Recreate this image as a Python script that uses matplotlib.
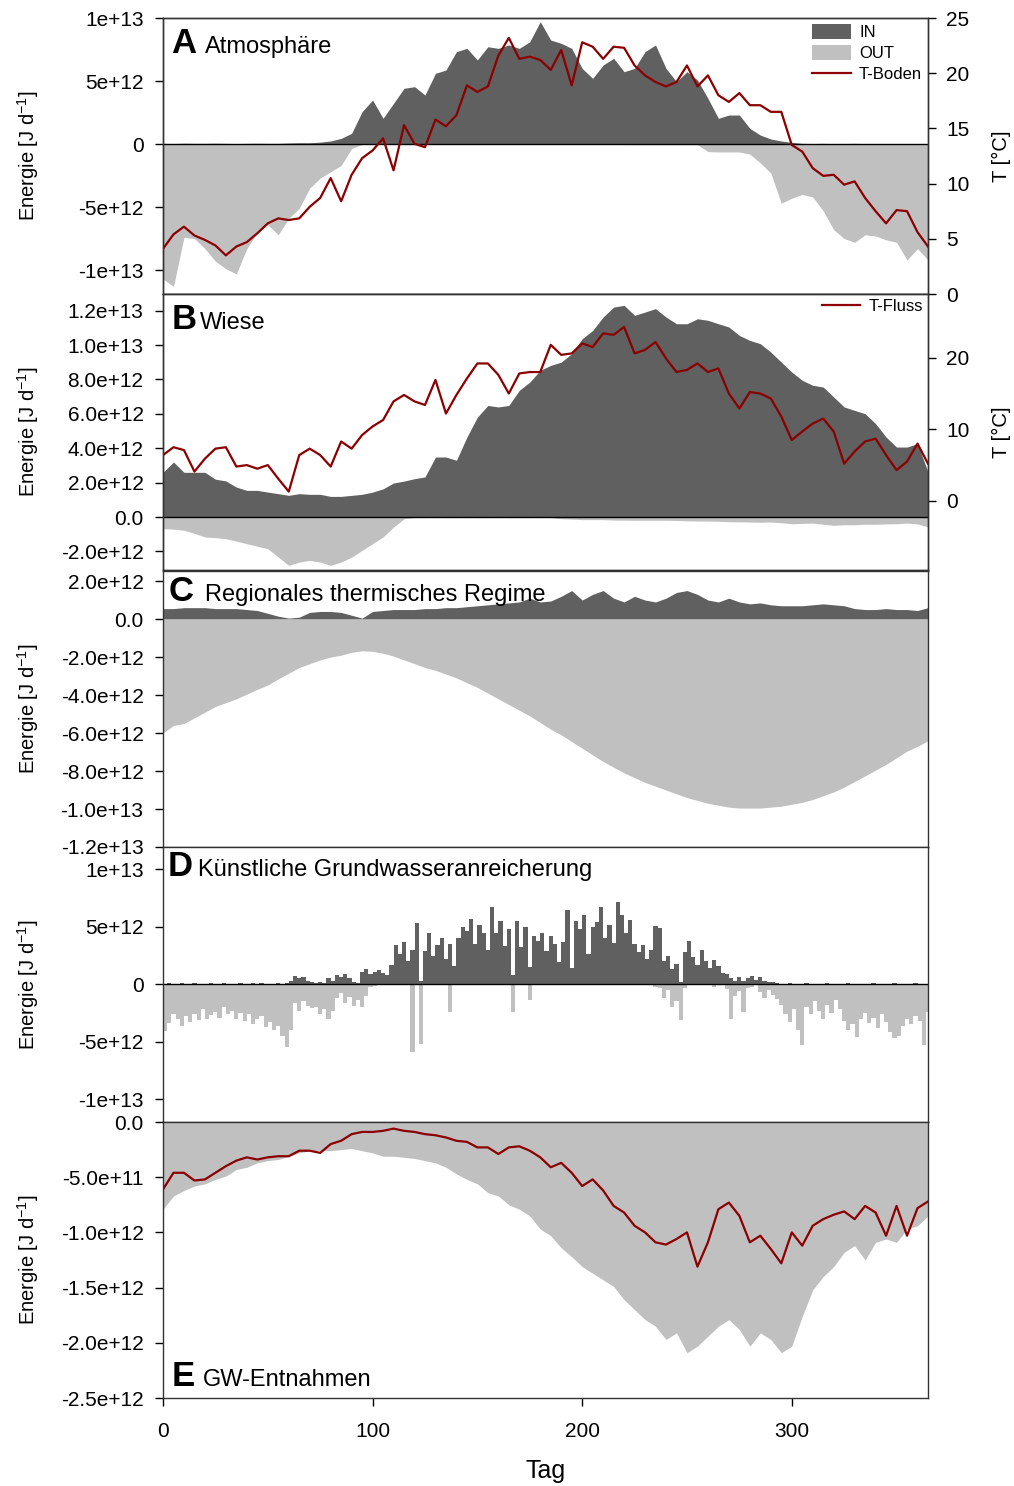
import numpy as np
import matplotlib
matplotlib.use("Agg")
import matplotlib.pyplot as plt
from matplotlib.patches import Patch
from matplotlib.lines import Line2D

plt.rcParams['font.family'] = ['Liberation Sans', 'DejaVu Sans']
plt.rcParams['mathtext.default'] = 'regular'

DARK = '#606060'
LIGHT = '#c0c0c0'
RED = '#8b0000'

# Tag (5-Tage Raster) und Tag (2-Tage Raster fuer Panel D)
days = np.arange(0, 366, 5)
days_d = np.arange(0, 365, 2)

# Energie in 1e12 J/d
# A Atmosphaere
a_in = [0.05, 0.04, 0.06, 0.05, 0.05, 0.06, 0.05, 0.04, 0.05, 0.06, 0.05, 0.05, 0.08, 0.1, 0.1,
        0.15, 0.24, 0.45, 0.85, 2.57, 3.49, 2.04, 3.23, 4.42, 4.55,
        3.89, 5.61, 5.87, 7.33, 7.59, 6.67, 7.72, 7.59, 7.86, 7.59,
        8.12, 9.71, 8.25, 7.99, 7.59, 6.0, 5.21, 6.27, 6.8, 5.74,
        6.0, 7.33, 7.86, 6.0, 4.95, 5.74, 5.08, 3.62, 2.04, 2.3,
        2.3, 1.24, 0.71, 0.4, 0.24, 0.13,
        0.05, 0.04, 0.05, 0.03, 0.04, 0.05, 0.03, 0.04, 0.03, 0.04, 0.03, 0.03, 0.03]
a_out = [-10.7, -11.3, -7.4, -7.5, -8.3, -9.3, -9.9, -10.3, -8.3, -7.0,
         -6.4, -7.2, -5.9, -5.1, -3.5, -2.7, -2.2, -1.7, -0.35,
         -0.03, -0.02, -0.03, -0.02, -0.03, -0.02, -0.03, -0.03, -0.02, -0.03, -0.02,
         -0.03, -0.02, -0.03, -0.03, -0.02, -0.03, -0.02, -0.03, -0.02, -0.03, -0.03,
         -0.02, -0.03, -0.02, -0.03, -0.05, -0.05, -0.05, -0.05, -0.05, -0.05, -0.05,
         -0.6, -0.63, -0.63, -0.63, -0.8, -1.5, -2.3, -4.7, -4.3, -4.0, -4.2,
         -5.3, -6.8, -7.5, -7.8, -7.2, -7.3, -7.6, -7.8, -9.2, -8.3, -9.2]
a_temp = [4.1, 5.4, 6.1, 5.3, 4.9, 4.4, 3.5, 4.3, 4.7, 5.5,
          6.4, 6.85, 6.7, 6.85, 7.9, 8.7, 10.5, 8.4, 10.8, 12.3,
          13.0, 14.1, 11.2, 15.3, 13.6, 13.3, 15.8, 15.2, 16.2, 18.9,
          18.3, 18.8, 21.6, 23.2, 21.3, 21.5, 21.2, 20.3, 22.1, 18.9,
          22.8, 22.4, 21.3, 22.4, 22.3, 20.7, 19.8, 19.2, 18.8, 19.2,
          20.7, 18.8, 19.8, 18.0, 17.4, 18.2, 17.1, 17.1, 16.5, 16.5,
          13.5, 12.9, 11.4, 10.7, 10.8, 9.9, 10.2, 8.7, 7.5, 6.4,
          7.6, 7.5, 5.6, 4.3]

# B Wiese
b_in = [2.6, 3.2, 2.6, 2.6, 2.6, 2.2, 2.1, 1.74, 1.55, 1.55,
        1.45, 1.36, 1.26, 1.36, 1.32, 1.32, 1.2, 1.2, 1.26, 1.32,
        1.45, 1.64, 1.98, 2.09, 2.23, 2.33, 3.49, 3.49, 3.3, 4.65,
        5.81, 6.49, 6.4, 6.49, 7.37, 7.85, 8.53, 8.82, 9.01, 9.5,
        10.37, 10.85, 11.63, 12.21, 12.31, 11.73, 11.92, 12.12, 11.63, 11.24,
        11.24, 11.53, 11.44, 11.24, 11.05, 10.56, 10.27, 10.08, 9.59, 9.01,
        8.43, 7.95, 7.66, 7.56, 6.98, 6.4, 6.2, 6.01, 5.43, 4.65,
        4.07, 4.07, 4.27, 2.62]
b_out = [-0.68, -0.7, -0.77, -0.95, -1.16, -1.2, -1.26, -1.4, -1.55, -1.7,
         -1.84, -2.33, -2.81, -2.62, -2.52, -2.62, -2.81, -2.62, -2.33, -1.94,
         -1.55, -1.16, -0.58, -0.1, -0.03, -0.03, -0.02, -0.03, -0.03, -0.02,
         -0.03, -0.03, -0.02, -0.03, -0.03, -0.03, -0.02, -0.03, -0.1, -0.12,
         -0.15, -0.15, -0.15, -0.18, -0.18, -0.19, -0.19, -0.19, -0.19, -0.2,
         -0.22, -0.23, -0.23, -0.25, -0.27, -0.28, -0.29, -0.3, -0.29, -0.33,
         -0.39, -0.37, -0.35, -0.42, -0.48, -0.45, -0.45, -0.42, -0.42, -0.4,
         -0.39, -0.35, -0.4, -0.58]
b_temp = [6.4, 7.5, 7.1, 4.1, 5.9, 7.3, 7.5, 4.8, 5.0, 4.5,
          5.0, 3.1, 1.3, 6.4, 7.3, 6.4, 4.8, 8.3, 7.3, 9.2,
          10.4, 11.3, 13.9, 14.8, 13.9, 13.4, 16.9, 12.2, 14.8, 17.1,
          19.2, 19.2, 17.6, 15.0, 17.8, 18.0, 18.0, 21.8, 20.4, 20.6,
          22.0, 21.5, 23.4, 23.2, 24.3, 20.6, 21.1, 22.2, 19.9, 18.0,
          18.3, 19.2, 18.0, 18.5, 15.0, 12.9, 15.2, 15.0, 14.3, 11.8,
          8.5, 9.7, 10.8, 11.5, 9.7, 5.2, 6.9, 8.3, 8.7, 6.4,
          4.3, 5.5, 8.0, 5.2]

# C Regionales thermisches Regime
c_in = [0.55, 0.55, 0.6, 0.6, 0.6, 0.55, 0.55, 0.55, 0.5, 0.45,
        0.3, 0.15, 0.05, 0.1, 0.35, 0.4, 0.4, 0.35, 0.2, 0.05,
        0.4, 0.45, 0.5, 0.5, 0.5, 0.55, 0.55, 0.6, 0.6, 0.65,
        0.7, 0.75, 0.8, 0.85, 0.9, 1.1, 0.9, 0.95, 1.2, 1.5,
        1.0, 1.3, 1.5, 1.1, 0.9, 1.2, 1.0, 0.9, 1.1, 1.4,
        1.5, 1.3, 1.0, 0.9, 1.1, 0.9, 0.8, 0.85, 0.75, 0.7,
        0.7, 0.7, 0.75, 0.8, 0.75, 0.7, 0.55, 0.5, 0.5, 0.55,
        0.5, 0.5, 0.45, 0.6]
c_out = [-6.0, -5.6, -5.5, -5.2, -4.9, -4.6, -4.4, -4.2, -3.95, -3.7,
         -3.47, -3.15, -2.85, -2.55, -2.35, -2.15, -2.0, -1.9, -1.75, -1.67,
         -1.7, -1.8, -1.95, -2.15, -2.35, -2.55, -2.7, -2.9, -3.1, -3.35,
         -3.6, -3.9, -4.2, -4.5, -4.8, -5.1, -5.45, -5.8, -6.1, -6.45,
         -6.8, -7.15, -7.5, -7.8, -8.1, -8.35, -8.6, -8.8, -9.0, -9.2,
         -9.4, -9.55, -9.7, -9.8, -9.9, -9.95, -9.95, -9.95, -9.9, -9.85,
         -9.75, -9.65, -9.5, -9.3, -9.1, -8.85, -8.55, -8.25, -7.95, -7.65,
         -7.3, -6.95, -6.7, -6.4]

# D Kuenstliche Grundwasseranreicherung (2-Tage Werte)
d_in = [0.05, 0.1, 0.05, 0.05, 0.08, 0.05, 0.05, 0.1, 0.05, 0.05, 0.05, 0.08, 0.05, 0.05, 0.1, 0.05,
        0.05, 0.05, 0.1, 0.05, 0.05, 0.08, 0.05, 0.1, 0.05, 0.05, 0.05, 0.1, 0.05, 0.1, 0.3,
        0.7, 0.5, 0.6, 0.3, 0.2, 0.1, 0.2, 0.1,
        0.5, 0.3, 0.8, 0.6, 0.9, 0.5, 0.2, 0.1,
        1.1, 1.3, 0.9, 1.1, 1.2, 1.0, 0.8,
        1.7, 3.4, 2.6, 3.7, 2.0, 3.0,
        5.3,
        0.3, 2.9, 4.5, 2.5,
        3.4, 4.0, 2.2, 3.5, 1.6,
        4.0, 5.0, 4.6, 5.7, 3.5, 5.2, 4.5, 3.0,
        6.7, 4.5, 5.5, 3.3,
        4.8, 0.8, 5.5, 3.2, 5.0, 1.5, 4.2,
        3.8, 4.5, 2.9, 4.2, 3.5, 1.9, 3.7, 6.5, 1.4,
        5.5, 4.8, 6.0, 2.6, 5.0, 5.4,
        6.7,
        4.0, 5.2, 3.6,
        7.2,
        6.0, 4.5, 5.6, 3.5,
        2.8, 3.4, 2.2, 3.0, 5.1,
        4.9, 2.0, 2.5, 1.3, 1.8, 0.2,
        2.8, 3.8, 2.4, 1.7, 3.0,
        2.0, 1.4, 2.1, 1.6, 1.0,
        0.9, 0.5, 0.3,
        0.6, 0.3, 0.5, 0.7, 0.4, 0.6, 0.3, 0.2, 0.15, 0.1,
        0.05, 0.04, 0.08, 0.05, 0.04, 0.05, 0.1, 0.04, 0.05, 0.04, 0.05, 0.08,
        0.04, 0.05, 0.04, 0.05, 0.1, 0.04, 0.05, 0.04, 0.05, 0.04, 0.08, 0.05,
        0.04, 0.05, 0.04, 0.1, 0.05, 0.04, 0.05, 0.04, 0.08, 0.05, 0.04, 0.05]
d_out = [-4.1, -3.4, -2.6, -3.0, -3.6, -2.8, -3.3,
         -2.6, -3.1, -2.2, -3.0, -2.7, -2.4, -2.9, -2.0, -2.6, -2.3, -3.0, -2.5,
         -3.2, -2.6, -3.5, -3.0, -2.8, -3.7, -3.3, -4.0, -3.6, -4.5, -5.5, -4.0,
         -1.6, -2.3, -1.5, -1.9, -2.1, -2.0, -2.6, -2.2,
         -3.0, -2.3, -1.2, -0.8, -1.6, -1.1, -1.9, -1.4,
         -2.0, -1.0,
         -0.2, -0.15, -0.1, -0.1, -0.05, -0.05, -0.1, -0.05, -0.05, -0.05,
         -5.9,
         -0.1, -5.2,
         -0.05, -0.05, -0.05, -0.05, -0.1, -0.05,
         -2.4,
         -0.05, -0.1, -0.05, -0.05, -0.05, -0.05, -0.1, -0.05, -0.05, -0.1, -0.05, -0.05, -0.05, -0.05,
         -2.4,
         -0.05, -0.05, -0.05,
         -1.4,
         -0.05, -0.1, -0.05, -0.05, -0.05, -0.1, -0.05, -0.05, -0.05, -0.05, -0.1,
         -0.05, -0.05, -0.1, -0.05, -0.05, -0.05, -0.05, -0.1, -0.05, -0.05,
         -0.05, -0.1, -0.05, -0.05, -0.05, -0.1, -0.05, -0.05, -0.2, -0.3,
         -1.2, -0.5, -2.0, -1.5, -3.1, -0.3,
         -0.05, -0.1, -0.05, -0.1, -0.05, -0.05, -0.2, -0.05, -0.1,
         -0.4, -3.0, -1.0, -0.6, -2.4, -0.3,
         -0.2, -0.1, -0.7, -1.2, -0.5, -0.9, -1.3,
         -1.8, -2.6, -3.3, -2.2, -4.0, -5.3,
         -2.0, -2.6, -1.5, -2.3, -3.0, -1.8, -2.5, -1.4, -2.2,
         -3.2, -4.0, -3.5, -4.6, -3.0,
         -2.5, -3.4, -2.9, -3.8, -2.6, -3.3, -4.2,
         -4.7, -4.5,
         -3.6, -3.0, -3.5, -2.8, -3.2,
         -5.3, -2.4]

# E GW-Entnahmen
e_out = [-0.79, -0.67, -0.62, -0.58, -0.56, -0.52, -0.49, -0.43, -0.41, -0.37,
         -0.35, -0.34, -0.31, -0.28, -0.26, -0.26, -0.26, -0.25, -0.24, -0.26,
         -0.28, -0.31, -0.31, -0.32, -0.33, -0.35, -0.37, -0.41, -0.47, -0.52,
         -0.56, -0.64, -0.67, -0.75, -0.79, -0.85, -0.97, -1.03, -1.14, -1.22,
         -1.31, -1.37, -1.43, -1.49, -1.61, -1.7, -1.79, -1.85, -1.97, -1.91,
         -2.09, -2.03, -1.94, -1.85, -1.79, -1.88, -2.03, -1.91, -1.97, -2.09,
         -2.03, -1.76, -1.52, -1.4, -1.31, -1.18, -1.12, -1.25, -1.09, -1.06,
         -1.09, -0.97, -0.94, -0.85]
e_line = [-0.61, -0.46, -0.46, -0.53, -0.52, -0.46, -0.4, -0.35, -0.32, -0.34,
          -0.32, -0.31, -0.31, -0.26, -0.26, -0.28, -0.2, -0.17, -0.11, -0.09,
          -0.09, -0.08, -0.06, -0.08, -0.09, -0.11, -0.12, -0.14, -0.17, -0.18,
          -0.23, -0.23, -0.29, -0.23, -0.22, -0.26, -0.32, -0.41, -0.37, -0.46,
          -0.58, -0.52, -0.62, -0.76, -0.82, -0.94, -1.0, -1.09, -1.11, -1.06,
          -1.0, -1.31, -1.09, -0.79, -0.73, -0.85, -1.09, -1.03, -1.15, -1.28,
          -1.0, -1.12, -0.94, -0.88, -0.84, -0.81, -0.88, -0.76, -0.82, -1.03,
          -0.76, -1.03, -0.78, -0.72]

# Achsenbeschriftungen
a_ticks = [10, 5, 0, -5, -10]
a_labels = ['1e+13', '5e+12', '0', '-5e+12', '-1e+13']
b_ticks = [12, 10, 8, 6, 4, 2, 0, -2]
b_labels = ['1.2e+13', '1.0e+13', '8.0e+12', '6.0e+12', '4.0e+12', '2.0e+12', '0.0', '-2.0e+12']
c_ticks = [2, 0, -2, -4, -6, -8, -10, -12]
c_labels = ['2.0e+12', '0.0', '-2.0e+12', '-4.0e+12', '-6.0e+12', '-8.0e+12', '-1.0e+13', '-1.2e+13']
d_ticks = [10, 5, 0, -5, -10]
d_labels = ['1e+13', '5e+12', '0', '-5e+12', '-1e+13']
e_ticks = [0, -0.5, -1.0, -1.5, -2.0, -2.5]
e_labels = ['0.0', '-5.0e+11', '-1.0e+12', '-1.5e+12', '-2.0e+12', '-2.5e+12']

W, H = 1014, 1486
fig = plt.figure(figsize=(W / 100, H / 100), dpi=100)

left = 163 / W
width = (928 - 163) / W


def add_panel(top_px, bottom_px):
    return fig.add_axes([left, (H - bottom_px) / H, width, (bottom_px - top_px) / H])


def style_axis(ax, ylim, ticks, labels, letter, title, lx, tx, ty):
    ax.set_xlim(0, 365)
    ax.set_ylim(*ylim)
    ax.set_yticks(ticks)
    ax.set_yticklabels(labels)
    ax.tick_params(axis='y', direction='out', length=6, width=1, pad=8, labelsize=15)
    ax.tick_params(axis='x', bottom=False, labelbottom=False)
    for s in ax.spines.values():
        s.set_linewidth(1.0)
        s.set_color('#333333')
    ax.set_ylabel('Energie [J d$^{-1}$]', fontsize=14.5)
    ax.yaxis.set_label_coords(-0.160, 0.5)
    ax.text(lx, ty, letter, transform=ax.transAxes, fontsize=25, fontweight='bold',
            ha='left', va='baseline', zorder=10)
    ax.text(tx, ty, title, transform=ax.transAxes, fontsize=17,
            ha='left', va='baseline', zorder=10)


def style_right(ax2, ylim, ticks):
    ax2.set_ylim(*ylim)
    ax2.set_yticks(ticks)
    ax2.tick_params(axis='y', direction='out', length=6, width=1, pad=7, labelsize=15)
    ax2.set_ylabel('T [°C]', fontsize=14.5)
    ax2.yaxis.set_label_coords(1.084, 0.5)
    for s in ax2.spines.values():
        s.set_linewidth(1.0)
        s.set_color('#333333')


# Panel A
axA = add_panel(18, 294)
axA.fill_between(days, 0, a_in, color=DARK, lw=0)
axA.fill_between(days, 0, a_out, color=LIGHT, lw=0)
axA.axhline(0, color='black', lw=1)
style_axis(axA, (-11.9, 10.0), a_ticks, a_labels, 'A', 'Atmosphäre', 0.011, 0.055, 0.873)
axA2 = axA.twinx()
axA2.plot(days, a_temp, color=RED, lw=1.6)
style_right(axA2, (0, 25), [0, 5, 10, 15, 20, 25])
handles = [Patch(facecolor=DARK, edgecolor='none', label='IN'),
           Patch(facecolor=LIGHT, edgecolor='none', label='OUT'),
           Line2D([], [], color=RED, lw=1.6, label='T-Boden')]
axA2.legend(handles=handles, loc='upper right', bbox_to_anchor=(1.0, 1.0), frameon=False,
            fontsize=12, handlelength=2.3, handleheight=1.0, labelspacing=0.3,
            handletextpad=0.5, borderpad=0.25, borderaxespad=0.1)

# Panel B
axB = add_panel(294, 570)
axB.fill_between(days, 0, b_in, color=DARK, lw=0)
axB.fill_between(days, 0, b_out, color=LIGHT, lw=0)
axB.axhline(0, color='black', lw=1)
style_axis(axB, (-3.08, 12.97), b_ticks, b_labels, 'B', 'Wiese', 0.011, 0.048, 0.873)
axB2 = axB.twinx()
axB2.plot(days, b_temp, color=RED, lw=1.6, label='T-Fluss')
style_right(axB2, (-9.65, 28.9), [0, 10, 20])
axB2.legend(loc='upper right', bbox_to_anchor=(1.0, 1.0), frameon=False, fontsize=12,
            handlelength=2.3, handletextpad=0.5, borderpad=0.2, borderaxespad=0.1)

# Panel C
axC = add_panel(571, 847)
axC.fill_between(days, 0, c_in, color=DARK, lw=0)
axC.fill_between(days, 0, c_out, color=LIGHT, lw=0)
style_axis(axC, (-12.0, 2.53), c_ticks, c_labels, 'C', 'Regionales thermisches Regime',
           0.007, 0.055, 0.89)

# Panel D
axD = add_panel(847, 1122)
axD.bar(days_d, d_in, width=2.0, align='edge', color=DARK, lw=0)
axD.bar(days_d, d_out, width=2.0, align='edge', color=LIGHT, lw=0)
axD.axhline(0, color='black', lw=1)
style_axis(axD, (-12.0, 11.95), d_ticks, d_labels, 'D', 'Künstliche Grundwasseranreicherung',
           0.006, 0.046, 0.893)

# Panel E
axE = add_panel(1122, 1398)
axE.fill_between(days, 0, e_out, color=LIGHT, lw=0)
axE.plot(days, e_line, color=RED, lw=1.6)
style_axis(axE, (-2.5, 0.0), e_ticks, e_labels, 'E', 'GW-Entnahmen', 0.011, 0.052, 0.042)
axE.set_xticks([0, 100, 200, 300])
axE.tick_params(axis='x', bottom=True, labelbottom=True, direction='out', length=6,
                width=1, pad=11, labelsize=15)
axE.set_xlabel('Tag', fontsize=18)
axE.xaxis.set_label_coords(0.5, -0.22)

fig.savefig('out.png', dpi=100)
